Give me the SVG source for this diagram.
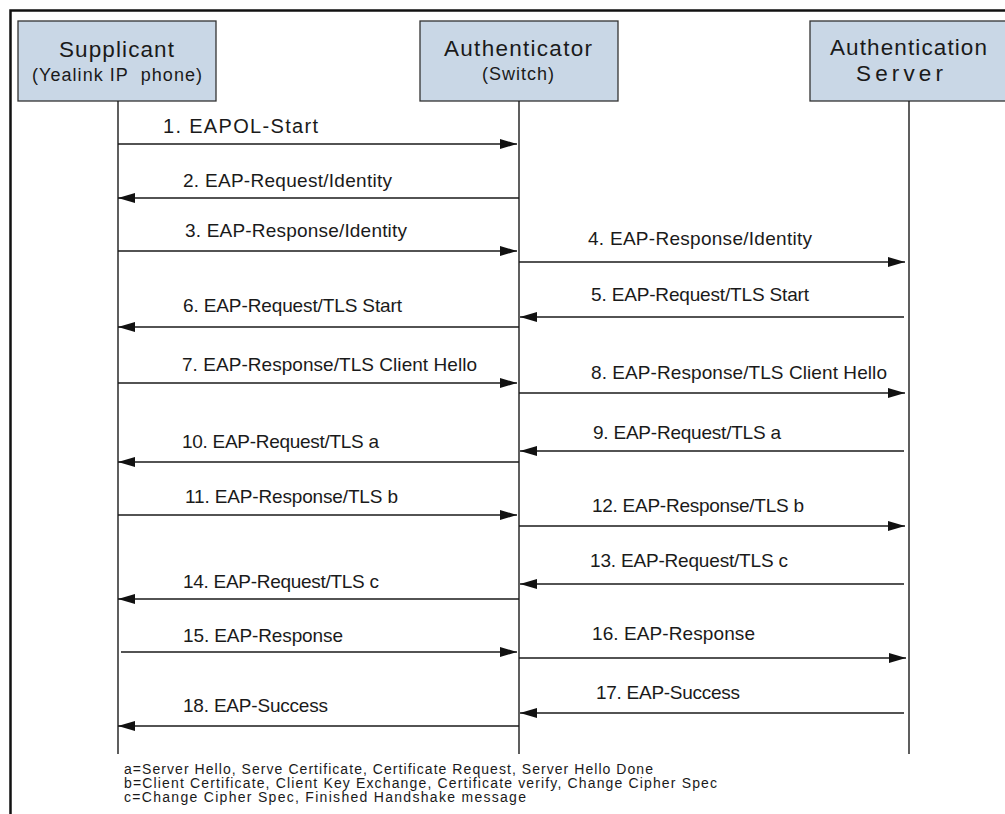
<svg xmlns="http://www.w3.org/2000/svg" width="1005" height="814" viewBox="0 0 1005 814">
<style>
.frame{fill:none;stroke:#111;stroke-width:2.5}
.box{fill:#c9d7e6;stroke:#333;stroke-width:1.3}
.life{stroke:#1a1a1a;stroke-width:1.4;fill:none}
.msg{stroke:#1a1a1a;stroke-width:1.4;fill:none;marker-end:url(#ah)}
.h1{font-family:"Liberation Sans",Arial,sans-serif;font-size:22.5px;fill:#1a1a1a;text-anchor:middle}
.h2{font-family:"Liberation Sans",Arial,sans-serif;font-size:18px;fill:#1a1a1a;text-anchor:middle}
.lbl{font-family:"Liberation Sans",Arial,sans-serif;font-size:19px;fill:#1a1a1a}
.note{font-family:"Liberation Sans",Arial,sans-serif;font-size:14px;fill:#1a1a1a}
</style>
<defs>
<marker id="ah" viewBox="0 0 17 10" refX="17" refY="5" markerWidth="17" markerHeight="10" markerUnits="userSpaceOnUse" orient="auto">
<path d="M0,0 L17,5 L0,10 z" fill="#111"/>
</marker>
</defs>
<rect class="frame" x="10.5" y="10.5" width="1010" height="820"/>
<g id="supplicant">
<rect class="box" x="18" y="21" width="198" height="80"/>
<text class="h1" x="116.5" y="57" textLength="115">Supplicant</text>
<text class="h2" x="117" y="81" textLength="170" xml:space="preserve">(Yealink IP  phone)</text>
<line class="life" x1="118" y1="101" x2="118" y2="754"/>
</g>
<g id="authenticator">
<rect class="box" x="420" y="21" width="198" height="80"/>
<text class="h1" x="518" y="56" textLength="148">Authenticator</text>
<text class="h2" x="518" y="80" textLength="72">(Switch)</text>
<line class="life" x1="519" y1="101" x2="519" y2="754"/>
</g>
<g id="server">
<rect class="box" x="810" y="21" width="198" height="80"/>
<text class="h1" x="908.5" y="55" textLength="157">Authentication</text>
<text class="h1" x="899.5" y="81" textLength="87">Server</text>
<line class="life" x1="909" y1="101" x2="909" y2="754"/>
</g>
<g id="connectors">
<line class="msg" x1="118" y1="144" x2="517" y2="144"/>
<line class="msg" x1="519" y1="198" x2="118" y2="198"/>
<line class="msg" x1="118" y1="251" x2="517" y2="251"/>
<line class="msg" x1="519" y1="262" x2="905" y2="262"/>
<line class="msg" x1="904" y1="317" x2="520" y2="317"/>
<line class="msg" x1="519" y1="327" x2="118" y2="327"/>
<line class="msg" x1="118" y1="383" x2="517" y2="383"/>
<line class="msg" x1="519" y1="393" x2="905" y2="393"/>
<line class="msg" x1="904" y1="451" x2="520" y2="451"/>
<line class="msg" x1="519" y1="462" x2="118" y2="462"/>
<line class="msg" x1="118" y1="515" x2="517" y2="515"/>
<line class="msg" x1="519" y1="526" x2="905" y2="526"/>
<line class="msg" x1="904" y1="584" x2="520" y2="584"/>
<line class="msg" x1="519" y1="599" x2="118" y2="599"/>
<line class="msg" x1="121" y1="652" x2="517" y2="652"/>
<line class="msg" x1="519" y1="658" x2="906" y2="658"/>
<line class="msg" x1="904" y1="713" x2="520" y2="713"/>
<line class="msg" x1="519" y1="726" x2="118" y2="726"/>
</g>
<g id="labels">
<text class="lbl" x="163" y="133" textLength="155" style="font-size:20px">1. EAPOL-Start</text>
<text class="lbl" x="183" y="187" textLength="209">2. EAP-Request/Identity</text>
<text class="lbl" x="185" y="237" textLength="222">3. EAP-Response/Identity</text>
<text class="lbl" x="588" y="245" textLength="224">4. EAP-Response/Identity</text>
<text class="lbl" x="591" y="301" textLength="218">5. EAP-Request/TLS Start</text>
<text class="lbl" x="183" y="312" textLength="219">6. EAP-Request/TLS Start</text>
<text class="lbl" x="182" y="371" textLength="295">7. EAP-Response/TLS Client Hello</text>
<text class="lbl" x="591" y="379" textLength="296">8. EAP-Response/TLS Client Hello</text>
<text class="lbl" x="593" y="439" textLength="188">9. EAP-Request/TLS a</text>
<text class="lbl" x="182" y="448" textLength="197">10. EAP-Request/TLS a</text>
<text class="lbl" x="185" y="503" textLength="213">11. EAP-Response/TLS b</text>
<text class="lbl" x="592" y="512" textLength="212">12. EAP-Response/TLS b</text>
<text class="lbl" x="590" y="567" textLength="198">13. EAP-Request/TLS c</text>
<text class="lbl" x="183" y="588" textLength="196">14. EAP-Request/TLS c</text>
<text class="lbl" x="183" y="642" textLength="160">15. EAP-Response</text>
<text class="lbl" x="592" y="640" textLength="163">16. EAP-Response</text>
<text class="lbl" x="596" y="699" textLength="144">17. EAP-Success</text>
<text class="lbl" x="183" y="712" textLength="145">18. EAP-Success</text>
</g>
<g id="notes">
<text class="note" x="124" y="774" textLength="529">a=Server Hello, Serve Certificate, Certificate Request, Server Hello Done</text>
<text class="note" x="124" y="788" textLength="593">b=Client Certificate, Client Key Exchange, Certificate verify, Change Cipher Spec</text>
<text class="note" x="124" y="802" textLength="402">c=Change Cipher Spec, Finished Handshake message</text>
</g>
</svg>
